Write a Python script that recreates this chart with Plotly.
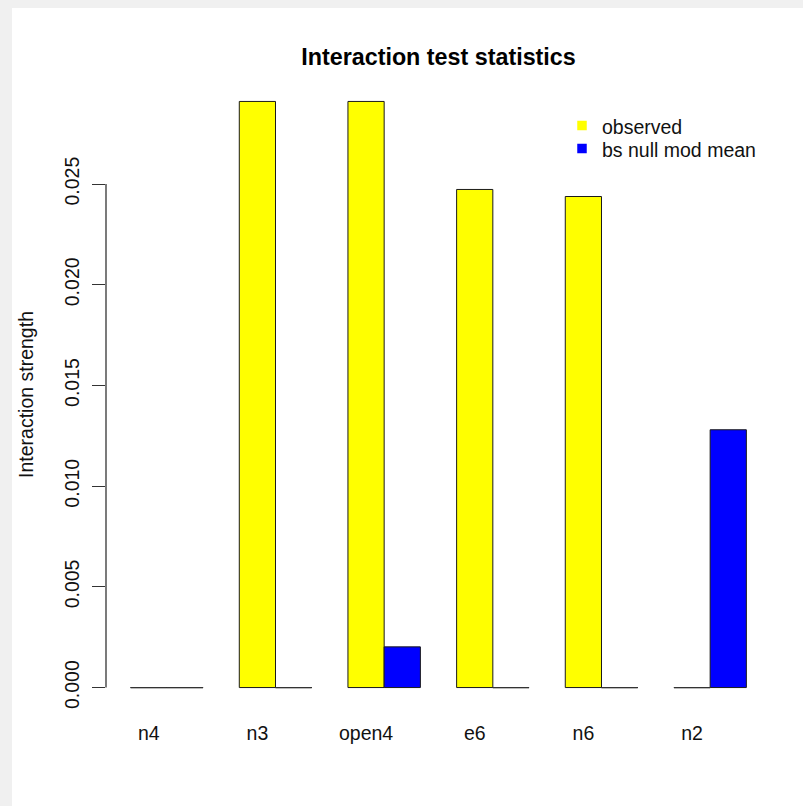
import numpy as np
import plotly.graph_objects as go

# Interaction statistics per motif
categories = ["n4", "n3", "open4", "e6", "n6", "n2"]
observed = [0.0, 0.0291, 0.0291, 0.02473, 0.02438, 0.0]
null_mean = [0.0, 0.0, 0.00202, 0.0, 0.0, 0.0128]
series_names = ["observed", "bs null mod mean"]
y_ticks = [0.0, 0.005, 0.010, 0.015, 0.020, 0.025]
y_tick_labels = ["0.000", "0.005", "0.010", "0.015", "0.020", "0.025"]

W, H = 803, 806
M_L, M_R, M_T, M_B = 106, 32, 78, 95
PW, PH = W - M_L - M_R, H - M_T - M_B

FONT = "Liberation Sans, Arial, sans-serif"
YELLOW, BLUE = "#ffff00", "#0000ff"
EDGE = "#1a1a1a"
TEXT = "#111111"

pos = np.arange(len(categories), dtype=float)
bar_w = 1.0 / 3.0  # two bars per group, one bar-width gap between groups

# R-style axis limits: data range padded by 4% on each side
ymax = max(max(observed), max(null_mean))
yrange = [-0.04 * ymax, 1.04 * ymax]
xlo, xhi = pos[0] - bar_w, pos[-1] + bar_w
xpad = 0.04 * (xhi - xlo)
xrange = [xlo - xpad, xhi + xpad]

fig = go.Figure()
fig.add_trace(go.Bar(x=pos, y=observed, name=series_names[0], showlegend=False,
                     marker=dict(color=YELLOW, line=dict(color=EDGE, width=1))))
fig.add_trace(go.Bar(x=pos, y=null_mean, name=series_names[1], showlegend=False,
                     marker=dict(color=BLUE, line=dict(color=EDGE, width=1))))

# zero-height bars collapse to a flat outline along the baseline
seg_x, seg_y = [], []
for i, (o, n) in enumerate(zip(observed, null_mean)):
    if o == 0:
        seg_x += [pos[i] - bar_w, pos[i], None]
        seg_y += [o, o, None]
    if n == 0:
        seg_x += [pos[i], pos[i] + bar_w, None]
        seg_y += [n, n, None]
fig.add_trace(go.Scatter(x=seg_x, y=seg_y, mode="lines", showlegend=False,
                         hoverinfo="skip", line=dict(color="#333333", width=1.3)))


def px_x(p):
    return (p - M_L) / PW


def px_y(p):
    return (H - M_B - p) / PH


shapes = [
    # window frame shading along the top and left edges
    dict(type="rect", xref="paper", yref="paper", layer="below",
         x0=px_x(0), x1=px_x(W), y0=px_y(8), y1=px_y(0),
         fillcolor="#f0f0f0", line=dict(width=0)),
    dict(type="rect", xref="paper", yref="paper", layer="below",
         x0=px_x(0), x1=px_x(12), y0=px_y(H), y1=px_y(0),
         fillcolor="#f0f0f0", line=dict(width=0)),
    # y axis line spanning the labelled ticks only
    dict(type="line", xref="paper", yref="y", x0=0, x1=0,
         y0=y_ticks[0], y1=y_ticks[-1], line=dict(color="#333333", width=1.3)),
]

# borderless legend: filled key squares with labels beside them
annotations = []
leg_x, leg_y, leg_step, key = 582, 125.5, 23, 9.5
for k, (name, col) in enumerate(zip(series_names, [YELLOW, BLUE])):
    cy = leg_y + k * leg_step
    shapes.append(dict(type="rect", xref="paper", yref="paper",
                       x0=px_x(leg_x - key / 2), x1=px_x(leg_x + key / 2),
                       y0=px_y(cy + key / 2), y1=px_y(cy - key / 2),
                       fillcolor=col, line=dict(width=0)))
    annotations.append(dict(text=name, xref="paper", yref="paper",
                            x=px_x(leg_x + 18), y=px_y(cy + 1.5),
                            xanchor="left", yanchor="middle", showarrow=False,
                            font=dict(family=FONT, size=19.5, color=TEXT)))

fig.update_layout(
    width=W, height=H,
    margin=dict(l=M_L, r=M_R, t=M_T, b=M_B, autoexpand=False),
    paper_bgcolor="white", plot_bgcolor="white",
    font=dict(family=FONT, size=19.5, color=TEXT),
    barmode="group", bargap=1 / 3, bargroupgap=0,
    showlegend=False,
    title=dict(text="<b>Interaction test statistics</b>", x=0.5, xref="paper",
               y=1 - 57 / H, yref="container", yanchor="middle",
               font=dict(family=FONT, size=23.3, color="#000000")),
    shapes=shapes,
    annotations=annotations,
    xaxis=dict(range=xrange, tickvals=list(pos - bar_w / 2), ticktext=categories,
               showgrid=False, zeroline=False, showline=False, ticks="",
               ticklabelstandoff=8, fixedrange=True),
    yaxis=dict(range=yrange, tickvals=y_ticks, ticktext=y_tick_labels,
               tickangle=-90, ticks="outside", ticklen=13, tickwidth=1.3,
               tickcolor="#333333", showgrid=False, zeroline=False,
               showline=False, ticklabelstandoff=5,
               title=dict(text="Interaction strength", standoff=22,
                          font=dict(size=19.5)), fixedrange=True),
)

fig.write_html("out.html")
